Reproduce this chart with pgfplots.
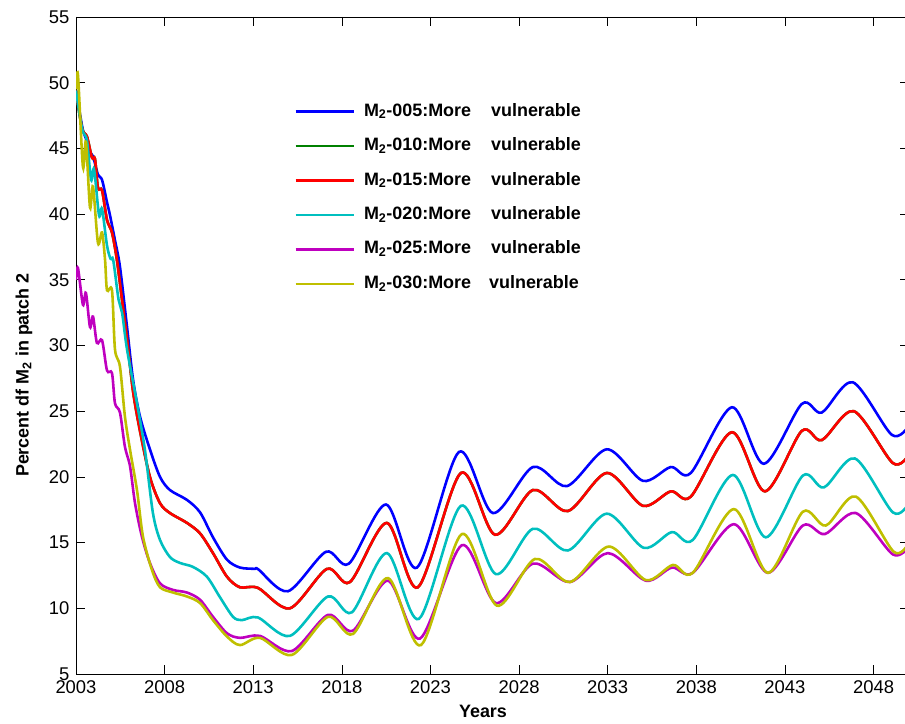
\documentclass[border=0pt]{standalone}
\usepackage{pgfplots}
\pgfplotsset{compat=1.18}
\usepackage{fontspec}
\setmainfont{Liberation Sans}

\definecolor{mblue}{rgb}{0,0,1}
\definecolor{mgreen}{rgb}{0,0.5,0}
\definecolor{mred}{rgb}{1,0,0}
\definecolor{mcyan}{rgb}{0,0.75,0.75}
\definecolor{mmagenta}{rgb}{0.75,0,0.75}
\definecolor{myellow}{rgb}{0.75,0.75,0}

\newcommand{\lab}[2]{M\textsubscript{2}-#1:More\hspace{#2}vulnerable}

\begin{document}
\begin{tikzpicture}
\begin{axis}[
  at={(76bp,50bp)}, anchor=south west,
  scale only axis, width=833bp, height=657bp,
  xmin=2003, xmax=2050, ymin=5, ymax=55,
  xtick={2003,2008,...,2048}, ytick={5,10,...,55},
  tick align=inside, major tick length=9bp,
  axis line style={line width=0.9pt},
  every tick/.style={black, line width=0.7pt},
  /pgf/number format/assume math mode=true,
  /pgf/number format/set thousands separator={},
  tick label style={font=\fontsize{18.5}{20}\selectfont},
  xticklabel style={yshift=-3bp},
  yticklabel style={xshift=-3bp},
  label style={font=\bfseries\fontsize{18}{20}\selectfont},
  xlabel={Years},
  xlabel style={at={(axis description cs:0.4886,0)}, anchor=north, yshift=-28bp},
  ylabel={Percent df M\textsubscript{2} in patch 2},
  ylabel style={at={(axis description cs:-0.0625,0.455)}, anchor=center},
  every axis plot/.append style={line width=2.6pt, smooth, tension=0.5},
  legend cell align=left,
  % sample line plus a little blank room before the entry text
  legend image code/.code={\draw[#1] (0bp,0bp) -- (58bp,0bp); \path (64bp,0bp);},
  legend style={draw=none, fill=none, at={(axis description cs:0.2584,0.877)}, anchor=north west,
    font=\bfseries\fontsize{18}{20}\selectfont, row sep=11.5bp,
    nodes={text height=13bp, text depth=4bp, inner sep=3bp}},
]
% scenario 005
\addplot[mblue] coordinates {
(2003.00,49.4)(2003.20,47.8)(2003.39,46.4)(2003.60,45.6)(2003.79,44.7)(2003.96,44.4)
(2004.24,43.0)(2004.47,42.6)(2004.75,40.9)(2004.92,39.9)(2005.20,38.0)(2005.48,36.0)
(2005.88,31.4)(2006.22,27.4)(2006.61,24.6)(2007.17,22.1)(2007.74,20.0)(2008.30,19.0)
(2009.26,18.25)(2010.00,17.3)(2010.73,15.4)(2011.52,13.7)(2012.25,13.1)(2013.10,13.0)
(2013.30,12.95)(2014.96,11.3)(2017.10,14.3)(2018.40,13.4)(2020.49,17.9)(2022.24,13.1)
(2024.61,21.9)(2026.52,17.25)(2028.78,20.75)(2030.70,19.3)(2032.95,22.1)(2034.99,19.7)
(2036.56,20.75)(2037.69,20.3)(2040.01,25.3)(2041.81,21.0)(2043.95,25.55)(2045.08,24.9)
(2046.83,27.2)(2049.03,23.2)(2050.00,23.9)};
\addlegendentry{\lab{005}{20bp}}
% scenario 010
\addplot[mgreen] coordinates {
(2003.00,49.4)(2003.20,47.6)(2003.39,46.3)(2003.62,45.9)(2003.90,44.3)(2004.07,44.2)
(2004.24,42.0)(2004.47,41.8)(2004.75,39.55)(2005.03,38.6)(2005.31,36.5)(2005.65,32.9)
(2005.88,30.5)(2006.22,26.5)(2006.61,23.5)(2007.17,20.0)(2007.74,18.0)(2008.30,17.25)
(2009.26,16.5)(2010.00,15.7)(2010.73,14.2)(2011.52,12.4)(2012.25,11.6)(2013.27,11.55)
(2015.07,10.0)(2017.16,13.0)(2018.46,12.0)(2020.54,16.5)(2022.29,11.6)(2024.72,20.3)
(2026.64,15.6)(2028.78,19.0)(2030.75,17.4)(2032.95,20.3)(2034.99,17.8)(2036.56,18.9)
(2037.69,18.5)(2040.01,23.4)(2041.87,18.9)(2043.95,23.5)(2045.08,22.8)(2046.89,25.0)
(2049.09,21.05)(2050.00,21.7)};
\addlegendentry{\lab{010}{20bp}}
% scenario 015
\addplot[mred] coordinates {
(2003.00,49.4)(2003.20,47.6)(2003.39,46.3)(2003.62,45.9)(2003.90,44.3)(2004.07,44.2)
(2004.24,42.0)(2004.47,41.8)(2004.75,39.55)(2005.03,38.6)(2005.31,36.5)(2005.65,32.9)
(2005.88,30.5)(2006.22,26.5)(2006.61,23.5)(2007.17,20.0)(2007.74,18.0)(2008.30,17.25)
(2009.26,16.5)(2010.00,15.7)(2010.73,14.2)(2011.52,12.4)(2012.25,11.6)(2013.27,11.55)
(2015.07,10.0)(2017.16,13.0)(2018.46,12.0)(2020.54,16.5)(2022.29,11.6)(2024.72,20.3)
(2026.64,15.6)(2028.78,19.0)(2030.75,17.4)(2032.95,20.3)(2034.99,17.8)(2036.56,18.9)
(2037.69,18.5)(2040.01,23.4)(2041.87,18.9)(2043.95,23.5)(2045.08,22.8)(2046.89,25.0)
(2049.09,21.05)(2050.00,21.7)};
\addlegendentry{\lab{015}{20bp}}
% scenario 020
\addplot[mcyan] coordinates {
(2003.00,49.4)(2003.20,47.6)(2003.39,46.25)(2003.62,45.6)(2003.85,42.6)(2004.02,43.4)
(2004.30,39.9)(2004.47,40.4)(2004.75,37.6)(2004.95,36.6)(2005.10,36.5)(2005.40,33.5)
(2005.60,32.5)(2005.88,29.7)(2006.44,25.6)(2006.89,22.05)(2007.34,17.25)(2007.74,15.2)
(2008.30,13.9)(2008.87,13.45)(2009.60,13.15)(2010.39,12.4)(2011.12,10.85)(2011.86,9.35)
(2012.36,9.1)(2013.27,9.3)(2015.07,7.9)(2017.22,10.9)(2018.57,9.7)(2020.54,14.2)
(2022.35,9.2)(2024.72,17.8)(2026.69,12.6)(2028.78,16.05)(2030.75,14.4)(2032.95,17.2)
(2035.04,14.6)(2036.62,15.8)(2037.80,15.2)(2040.06,20.15)(2041.92,15.4)(2044.01,20.1)
(2045.20,19.2)(2046.95,21.4)(2049.09,17.3)(2050.00,18.0)};
\addlegendentry{\lab{020}{20bp}}
% scenario 025
\addplot[mmagenta] coordinates {
(2003.00,35.0)(2003.11,35.9)(2003.39,33.1)(2003.56,34.0)(2003.79,31.4)(2003.96,32.2)
(2004.18,30.2)(2004.47,30.4)(2004.75,28.1)(2005.03,27.9)(2005.20,25.6)(2005.48,24.9)
(2005.76,22.3)(2006.05,20.8)(2006.33,18.0)(2006.72,15.45)(2007.17,13.45)(2007.74,11.9)
(2008.47,11.4)(2009.26,11.2)(2010.00,10.65)(2010.73,9.35)(2011.52,8.1)(2012.25,7.75)
(2013.38,7.9)(2015.18,6.75)(2017.22,9.5)(2018.63,8.3)(2020.60,12.1)(2022.41,7.7)
(2024.77,14.8)(2026.69,10.4)(2028.78,13.4)(2030.87,12.0)(2033.01,14.2)(2035.15,12.1)
(2036.62,13.1)(2037.80,12.7)(2040.12,16.4)(2042.04,12.7)(2044.01,16.3)(2045.25,15.65)
(2047.00,17.25)(2049.09,14.1)(2050.00,14.7)};
\addlegendentry{\lab{025}{20bp}}
% scenario 030
\addplot[myellow] coordinates {
(2003.00,49.5)(2003.11,50.6)(2003.39,43.6)(2003.56,45.5)(2003.79,40.5)(2003.96,42.1)
(2004.24,37.8)(2004.47,38.6)(2004.64,36.5)(2004.75,34.2)(2005.03,34.2)(2005.20,29.7)
(2005.48,28.4)(2005.76,24.6)(2006.05,22.05)(2006.44,19.0)(2006.78,15.45)(2007.29,12.9)
(2007.74,11.6)(2008.47,11.2)(2009.26,10.9)(2010.00,10.4)(2010.73,9.1)(2011.52,7.85)
(2012.25,7.2)(2013.38,7.75)(2015.18,6.45)(2017.22,9.35)(2018.63,8.05)(2020.60,12.3)
(2022.46,7.2)(2024.77,15.65)(2026.75,10.2)(2028.89,13.75)(2030.87,12.0)(2033.07,14.7)
(2035.15,12.15)(2036.68,13.3)(2037.80,12.7)(2040.12,17.55)(2042.04,12.7)(2044.01,17.35)
(2045.31,16.3)(2047.00,18.5)(2049.14,14.3)(2050.00,15.0)};
\addlegendentry{\lab{030}{18bp}}
\end{axis}
\pgfresetboundingbox
\path[use as bounding box] (0bp,0bp) rectangle (905bp,724bp);
\end{tikzpicture}
\end{document}
